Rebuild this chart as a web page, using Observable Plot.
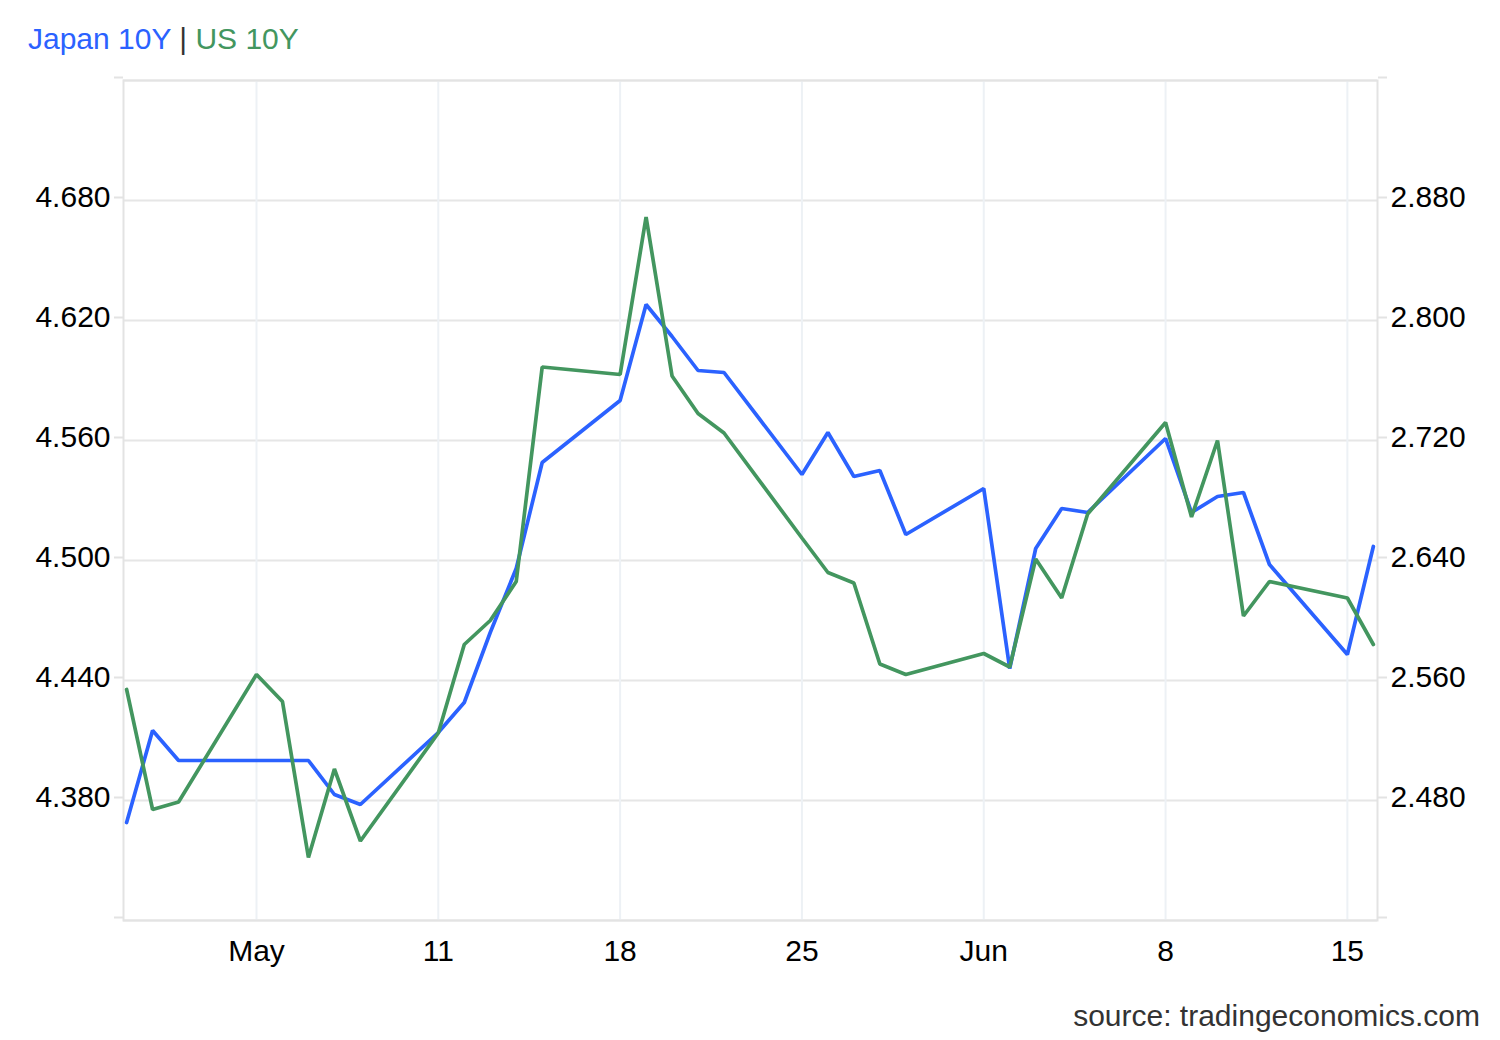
<!DOCTYPE html>
<html>
<head>
<meta charset="utf-8">
<script src="https://cdn.jsdelivr.net/npm/d3@7"></script>
<script src="https://cdn.jsdelivr.net/npm/@observablehq/plot@0.6"></script>
<style>
  html, body { margin: 0; padding: 0; background: #fff; overflow: hidden; }
  body { width: 1500px; height: 1040px; font-family: "Liberation Sans", Arial, sans-serif; }
  #title { height: 70px; box-sizing: border-box; padding: 24px 0 0 28px; font-size: 30px; line-height: 30px; white-space: nowrap; }
  #chart { position: relative; width: 1500px; height: 920px; }
  #chart svg { display: block; }
  #chart svg.overlay { position: absolute; left: 0; top: 0; background: transparent; }
  #caption { margin-top: 11px; padding-right: 20px; text-align: right; font-size: 30px; line-height: 30px; color: #333; }
</style>
</head>
<body>
<div id="title"><span style="color:#2b62ff">Japan 10Y</span> <span style="color:#333">|</span> <span style="color:#43965f">US 10Y</span></div>
<div id="chart"></div>
<div id="caption">source: tradingeconomics.com</div>
<script>
// ---- data ----
const dates = [
  "2025-04-29","2025-04-30","2025-05-01","2025-05-04","2025-05-05","2025-05-06","2025-05-07","2025-05-08",
  "2025-05-11","2025-05-12","2025-05-13","2025-05-14","2025-05-15",
  "2025-05-18","2025-05-19","2025-05-20","2025-05-21","2025-05-22",
  "2025-05-25","2025-05-26","2025-05-27","2025-05-28","2025-05-29",
  "2025-06-01","2025-06-02","2025-06-03","2025-06-04","2025-06-05",
  "2025-06-08","2025-06-09","2025-06-10","2025-06-11","2025-06-12",
  "2025-06-15","2025-06-16"
];
const japan10y = [
  4.369, 4.415, 4.400, 4.400, 4.400, 4.400, 4.383, 4.378,
  4.414, 4.429, 4.464, 4.496, 4.549,
  4.580, 4.628, 4.612, 4.595, 4.594,
  4.543, 4.564, 4.542, 4.545, 4.513,
  4.536, 4.446, 4.506, 4.526, 4.524,
  4.561, 4.524, 4.532, 4.534, 4.498,
  4.453, 4.507
];
const us10y = [
  2.554, 2.474, 2.479, 2.564, 2.546, 2.442, 2.501, 2.453,
  2.525, 2.584, 2.600, 2.626, 2.769,
  2.764, 2.869, 2.763, 2.738, 2.725,
  2.655, 2.632, 2.625, 2.571, 2.564,
  2.578, 2.569, 2.641, 2.615, 2.671,
  2.732, 2.669, 2.720, 2.603, 2.626,
  2.615, 2.584
];
const xTickDates = ["2025-05-04","2025-05-11","2025-05-18","2025-05-25","2025-06-01","2025-06-08","2025-06-15"];
const xTickLabels = ["May","11","18","25","Jun","8","15"];
const leftTicks = [4.32, 4.38, 4.44, 4.50, 4.56, 4.62, 4.68, 4.74];
const leftLabels = ["", "4.380", "4.440", "4.500", "4.560", "4.620", "4.680", ""];
const rightTicks = [2.40, 2.48, 2.56, 2.64, 2.72, 2.80, 2.88, 2.96];
const rightLabels = ["", "2.480", "2.560", "2.640", "2.720", "2.800", "2.880", ""];

// ---- colours / layout ----
const BLUE = "#2b62ff", GREEN = "#43965f";
const parse = d3.utcParse("%Y-%m-%d");
const DAY = 864e5;
const firstDate = parse(dates[0]), lastDate = parse(dates[dates.length - 1]);
const xDomain = [new Date(+firstDate - 0.12 * DAY), new Date(+lastDate + 0.16 * DAY)];
const tickDates = xTickDates.map(parse);

const japanData = dates.map((d, i) => ({date: parse(d), value: japan10y[i]}));
const usData = dates.map((d, i) => ({date: parse(d), value: us10y[i]}));

const common = {
  width: 1500, height: 920,
  marginTop: 10, marginBottom: 70, marginLeft: 123, marginRight: 123,
  style: {fontFamily: "'Liberation Sans', Arial, sans-serif", fontSize: "30px", color: "#000", background: "transparent"}
};

const base = Plot.plot({
  ...common,
  x: {type: "utc", domain: xDomain, label: null},
  y: {domain: [4.32, 4.74], label: null},
  marks: [
    Plot.ruleY(leftTicks, {stroke: "#e6e6e6", strokeWidth: 2}),
    Plot.ruleX(tickDates, {stroke: "#edf1f5", strokeWidth: 2}),
    Plot.frame({stroke: "#e3e3e3", strokeWidth: 2}),
    Plot.axisX(tickDates, {tickSize: 0, tickPadding: 19, fontSize: 30, fill: "#000", label: null,
      tickFormat: (d) => xTickLabels[tickDates.findIndex(t => +t === +d)]}),
    Plot.axisY(leftTicks, {anchor: "left", tickSize: 9, tickPadding: 4, stroke: "#e3e3e3", strokeWidth: 2,
      fill: "#000", fontSize: 30, dy: -3, label: null,
      tickFormat: (d) => leftLabels[leftTicks.indexOf(d)]}),
    Plot.line(japanData, {x: "date", y: "value", stroke: BLUE, strokeWidth: 3.7, strokeLinejoin: "miter"})
  ]
});

const overlay = Plot.plot({
  ...common,
  x: {type: "utc", domain: xDomain, label: null, axis: null},
  y: {domain: [2.40, 2.96], label: null},
  marks: [
    Plot.axisY(rightTicks, {anchor: "right", tickSize: 9, tickPadding: 4, stroke: "#e3e3e3", strokeWidth: 2,
      fill: "#000", fontSize: 30, dy: -3, label: null,
      tickFormat: (d) => rightLabels[rightTicks.indexOf(d)]}),
    Plot.line(usData, {x: "date", y: "value", stroke: GREEN, strokeWidth: 3.7, strokeLinejoin: "miter"})
  ]
});
overlay.classList.add("overlay");

const chart = document.getElementById("chart");
chart.appendChild(base);
chart.appendChild(overlay);
</script>
</body>
</html>
